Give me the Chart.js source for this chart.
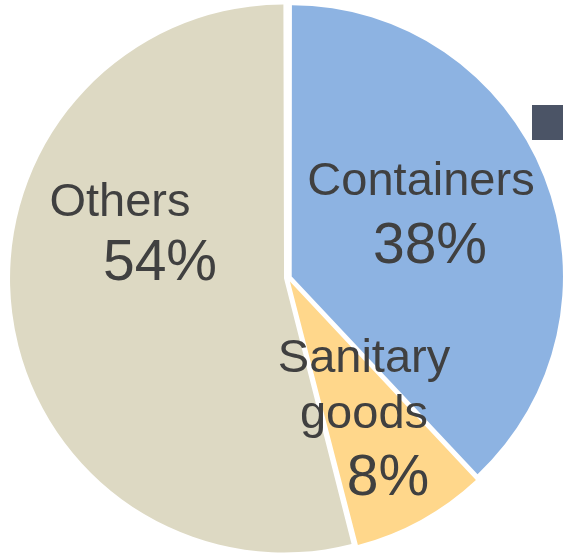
<!DOCTYPE html>
<html>
<head>
<meta charset="utf-8">
<script src="https://cdn.jsdelivr.net/npm/chart.js@4.4.1/dist/chart.umd.min.js"></script>
<style>
  html, body { margin: 0; padding: 0; background: #FFFFFF; overflow: hidden; }
  #wrap { position: relative; width: 563px; height: 557px; overflow: hidden; }
  /* canvas a little bigger than the window so the pie can reach the edges */
  #pie { position: absolute; left: 0; top: -10px; }
</style>
</head>
<body>
<div id="wrap"><canvas id="pie" width="600" height="580"></canvas></div>
<script>
  // ---- Data ----
  var CATEGORIES = ['Containers', 'Sanitary goods', 'Others'];
  var SHARES = [38, 8, 54];
  var SLICE_COLORS = ['#8DB3E2', '#FFD78B', '#DDD9C3'];

  // ---- Label lines (text, centre x, baseline y in page px, font size) ----
  var LABEL_LINES = [
    ['Containers', 421, 195, 47],
    ['38%', 430, 263, 57],
    ['Others', 120, 216, 47],
    ['54%', 160, 280, 57],
    ['Sanitary', 364, 372, 47],
    ['goods', 364, 428, 47],
    ['8%', 388, 495, 57]
  ];

  var FONT = "'Liberation Sans', Arial, sans-serif";
  var CANVAS_TOP = -10;

  // Draws the slide's labels plus the stray marker at the right edge
  var labelPlugin = {
    id: 'sliceLabels',
    afterDatasetsDraw: function (chart) {
      var ctx = chart.ctx;
      ctx.save();
      ctx.translate(0, -CANVAS_TOP);
      ctx.fillStyle = '#4B5466';
      ctx.fillRect(532, 105, 31, 35);
      ctx.fillStyle = '#404040';
      ctx.textAlign = 'center';
      ctx.textBaseline = 'alphabetic';
      LABEL_LINES.forEach(function (l) {
        ctx.font = l[3] + 'px ' + FONT;
        ctx.fillText(l[0], l[1], l[2]);
      });
      ctx.restore();
    }
  };

  new Chart(document.getElementById('pie').getContext('2d'), {
    type: 'pie',
    data: {
      labels: CATEGORIES,
      datasets: [{
        data: SHARES,
        backgroundColor: SLICE_COLORS,
        borderWidth: 0,
        offset: 16 // Chart.js moves each slice offset/4 px outwards
      }]
    },
    options: {
      responsive: false,
      animation: false,
      layout: { padding: { left: 10, right: 34, top: 10, bottom: 14 } },
      plugins: {
        legend: { display: false },
        tooltip: { enabled: false }
      }
    },
    plugins: [labelPlugin]
  });
</script>
</body>
</html>
